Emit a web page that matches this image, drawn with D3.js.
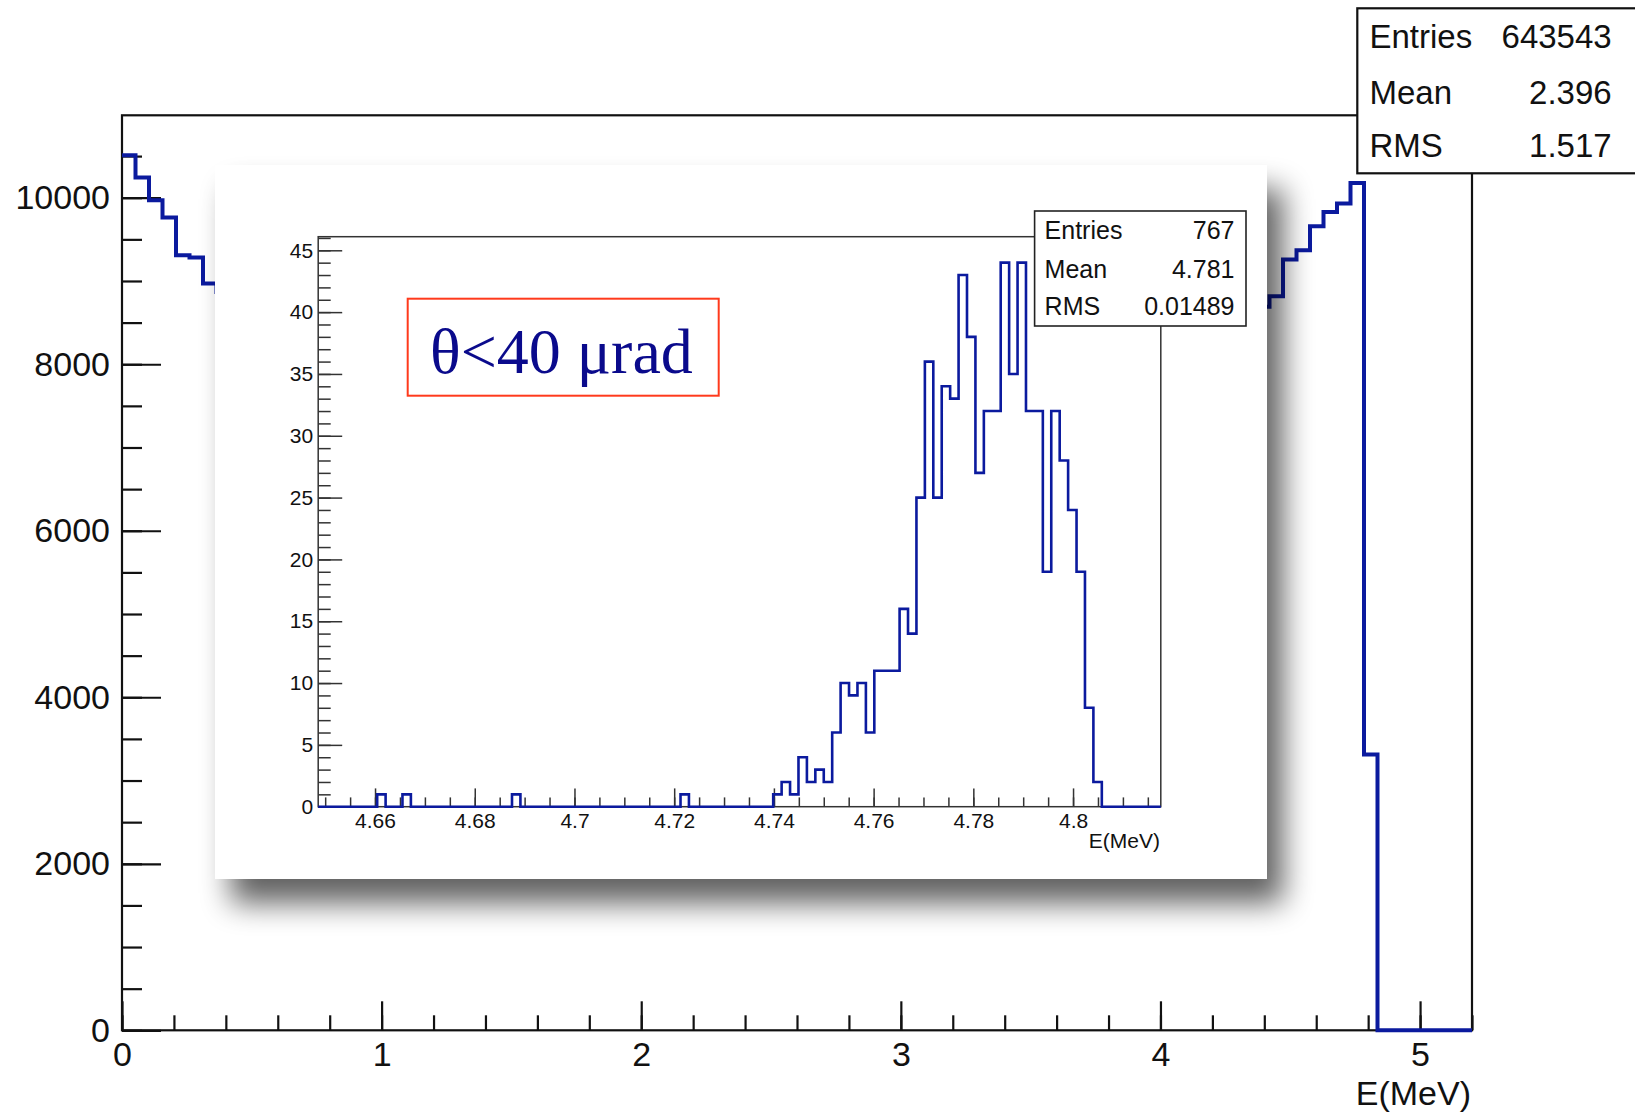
<!DOCTYPE html>
<html>
<head>
<meta charset="utf-8">
<script src="https://cdn.jsdelivr.net/npm/d3@7"></script>
<style>
  body { margin: 0; background: #fff; }
  svg { display: block; }
</style>
</head>
<body>
<svg id="chart" width="1635" height="1112"></svg>
<script>
// 主图：0 - 5.2 MeV，100 个 bin
const mainRange = [0, 5.2];
const mainYMax = 10990;
const mainCounts = [
  10511, 10242, 9970, 9762, 9309, 9281, 8969, 8869, 8690, 8495,
  8362, 8170, 8051, 7870, 7756, 7581, 7478, 7312, 7221, 7064,
  6978, 6831, 6752, 6618, 6547, 6421, 6359, 6242, 6190, 6081,
  6037, 5940, 5903, 5812, 5786, 5705, 5689, 5617, 5606, 5548,
  5543, 5494, 5497, 5460, 5468, 5441, 5459, 5446, 5470, 5462,
  5497, 5496, 5542, 5549, 5607, 5620, 5688, 5709, 5786, 5815,
  5903, 5941, 6037, 6084, 6190, 6245, 6359, 6424, 6547, 6620,
  6752, 6836, 6975, 7068, 7217, 7318, 7476, 7586, 7753, 7873,
  8048, 8176, 8359, 8497, 8690, 8817, 9258, 9370, 9658, 9830,
  9930, 10178, 3312, 0, 0, 0, 0, 0, 0, 0
];
const mainXTicks = [0, 1, 2, 3, 4, 5];
const mainYTicks = [0, 2000, 4000, 6000, 8000, 10000];
const mainStatsNames = ["Entries", "Mean", "RMS"];
const mainStatsValues = ["643543", "2.396", "1.517"];

// 小图：θ<40 μrad，100 个 bin
const insetRange = [4.6486, 4.8176];
const insetYMax = 46.1;
const insetCounts = [
  0, 0, 0, 0, 0, 0, 0, 1, 0, 0,
  1, 0, 0, 0, 0, 0, 0, 0, 0, 0,
  0, 0, 0, 1, 0, 0, 0, 0, 0, 0,
  0, 0, 0, 0, 0, 0, 0, 0, 0, 0,
  0, 0, 0, 1, 0, 0, 0, 0, 0, 0,
  0, 0, 0, 0, 1, 2, 1, 4, 2, 3,
  2, 6, 10, 9, 10, 6, 11, 11, 11, 16,
  14, 25, 36, 25, 34, 33, 43, 38, 27, 32,
  32, 44, 35, 44, 32, 32, 19, 32, 28, 24,
  19, 8, 2, 0, 0, 0, 0, 0, 0, 0
];
const insetXTicks = [4.66, 4.68, 4.7, 4.72, 4.74, 4.76, 4.78, 4.8];
const insetYTicks = [0, 5, 10, 15, 20, 25, 30, 35, 40, 45];
const insetStatsNames = ["Entries", "Mean", "RMS"];
const insetStatsValues = ["767", "4.781", "0.01489"];
const insetTitle = "θ<40 μrad";
const xTitle = "E(MeV)";

const histColor = "#0b1a9e";
const font = "'Liberation Sans', Arial, sans-serif";

const svg = d3.select("#chart");
svg.append("rect").attr("width", 1635).attr("height", 1112).attr("fill", "#fff");

// 直方图轮廓（ROOT 风格阶梯线，左端不画竖线）
function histPoints(counts, range) {
  const w = (range[1] - range[0]) / counts.length;
  const pts = [];
  counts.forEach((c, i) => {
    pts.push([range[0] + i * w, c]);
    pts.push([range[0] + (i + 1) * w, c]);
  });
  return pts;
}

function drawAxes(g, x, y, opt) {
  const [x0] = x.range();
  const [y0] = y.range();
  // 次刻度
  g.append("g").attr("transform", `translate(${x0},0)`)
    .call(d3.axisLeft(y).tickValues(y.ticks(opt.yMinorCount)).tickSize(-opt.yMinor).tickFormat(""));
  g.append("g").attr("transform", `translate(0,${y0})`)
    .call(d3.axisBottom(x).tickValues(x.ticks(opt.xMinorCount)).tickSize(-opt.xMinor).tickFormat(""));
  // 主刻度 + 标签
  g.append("g").attr("transform", `translate(${x0},0)`)
    .call(d3.axisLeft(y).tickValues(opt.yTicks).tickSize(-opt.yMajor).tickPadding(opt.yPad).tickFormat(d => d));
  g.append("g").attr("transform", `translate(0,${y0})`)
    .call(d3.axisBottom(x).tickValues(opt.xTicks).tickSize(-opt.xMajor).tickPadding(opt.xPad).tickFormat(d => d));
  g.selectAll(".domain").remove();
  g.selectAll(".tick line").attr("stroke", opt.color).attr("stroke-width", opt.lw);
  g.selectAll("text")
    .attr("font-family", font)
    .attr("font-size", opt.fontSize)
    .attr("fill", "#111");
}

// ---------- 主图 ----------
const xMain = d3.scaleLinear().domain(mainRange).range([122, 1472]);
const yMain = d3.scaleLinear().domain([0, mainYMax]).range([1030.3, 115.3]);
const gMain = svg.append("g");

gMain.append("rect")
  .attr("x", 122).attr("y", 115.3)
  .attr("width", 1350).attr("height", 915)
  .attr("fill", "none").attr("stroke", "#111").attr("stroke-width", 2.2);

drawAxes(gMain, xMain, yMain, {
  yMinorCount: 22, xMinorCount: 26, yMinor: 20, xMinor: 15,
  yMajor: 39, xMajor: 29, yPad: 12, xPad: 12,
  yTicks: mainYTicks, xTicks: mainXTicks,
  color: "#111", lw: 2.2, fontSize: 34
});

gMain.append("path")
  .datum(histPoints(mainCounts, mainRange))
  .attr("d", d3.line().x(d => xMain(d[0])).y(d => yMain(d[1])))
  .attr("fill", "none").attr("stroke", histColor).attr("stroke-width", 4);

gMain.append("text")
  .attr("x", 1471).attr("y", 1105)
  .attr("text-anchor", "end")
  .attr("font-family", font).attr("font-size", 34).attr("fill", "#111")
  .text(xTitle);

// 主图统计框
const mainStats = svg.append("g");
mainStats.append("rect")
  .attr("x", 1357.3).attr("y", 8.3).attr("width", 300).attr("height", 165)
  .attr("fill", "#fff").attr("stroke", "#111").attr("stroke-width", 2.2);
mainStatsNames.forEach((n, i) => {
  const yy = [48.3, 104, 156.7][i];
  mainStats.append("text").attr("x", 1369.5).attr("y", yy)
    .attr("font-family", font).attr("font-size", 33).attr("fill", "#111").text(n);
  mainStats.append("text").attr("x", 1611.7).attr("y", yy).attr("text-anchor", "end")
    .attr("font-family", font).attr("font-size", 33).attr("fill", "#111").text(mainStatsValues[i]);
});

// ---------- 小图（带阴影的插图） ----------
const defs = svg.append("defs");
const f = defs.append("filter").attr("id", "shadow")
  .attr("x", "-20%").attr("y", "-20%").attr("width", "140%").attr("height", "140%");
f.append("feGaussianBlur").attr("stdDeviation", 15);

const inset = svg.append("g");
inset.append("rect")
  .attr("x", 215 + 16).attr("y", 165 + 24)
  .attr("width", 1052).attr("height", 714)
  .attr("fill", "#000").attr("opacity", 0.62)
  .attr("filter", "url(#shadow)");
inset.append("rect")
  .attr("x", 215).attr("y", 165)
  .attr("width", 1052).attr("height", 714)
  .attr("fill", "#fff");

const xIn = d3.scaleLinear().domain(insetRange).range([318.2, 1160.8]);
const yIn = d3.scaleLinear().domain([0, insetYMax]).range([806.7, 236.7]);

inset.append("rect")
  .attr("x", 318.2).attr("y", 236.7)
  .attr("width", 1160.8 - 318.2).attr("height", 806.7 - 236.7)
  .attr("fill", "none").attr("stroke", "#333").attr("stroke-width", 1.5);

const gIn = inset.append("g");
drawAxes(gIn, xIn, yIn, {
  yMinorCount: 46, xMinorCount: 34, yMinor: 12.5, xMinor: 9.3,
  yMajor: 24, xMajor: 18.3, yPad: 5, xPad: 6.5,
  yTicks: insetYTicks, xTicks: insetXTicks,
  color: "#333", lw: 1.5, fontSize: 21
});

inset.append("path")
  .datum(histPoints(insetCounts, insetRange))
  .attr("d", d3.line().x(d => xIn(d[0])).y(d => yIn(d[1])))
  .attr("fill", "none").attr("stroke", histColor).attr("stroke-width", 2.6);

inset.append("text")
  .attr("x", 1160).attr("y", 848)
  .attr("text-anchor", "end")
  .attr("font-family", font).attr("font-size", 21).attr("fill", "#111")
  .text(xTitle);

// 小图统计框
inset.append("rect")
  .attr("x", 1034.6).attr("y", 211).attr("width", 211.4).attr("height", 115)
  .attr("fill", "#fff").attr("stroke", "#222").attr("stroke-width", 1.6);
insetStatsNames.forEach((n, i) => {
  const yy = [239.3, 278, 315][i];
  inset.append("text").attr("x", 1044.6).attr("y", yy)
    .attr("font-family", font).attr("font-size", 25).attr("fill", "#111").text(n);
  inset.append("text").attr("x", 1234.5).attr("y", yy).attr("text-anchor", "end")
    .attr("font-family", font).attr("font-size", 25).attr("fill", "#111").text(insetStatsValues[i]);
});

// 角度条件文本框
inset.append("rect")
  .attr("x", 407.7).attr("y", 298.7).attr("width", 311).attr("height", 97)
  .attr("fill", "none").attr("stroke", "#ff3a1c").attr("stroke-width", 2);
inset.append("text")
  .attr("x", 430).attr("y", 373.3)
  .attr("font-family", "'Liberation Serif', 'Times New Roman', serif")
  .attr("font-size", 64).attr("fill", "#0a0a8c")
  .text(insetTitle);
</script>
</body>
</html>
